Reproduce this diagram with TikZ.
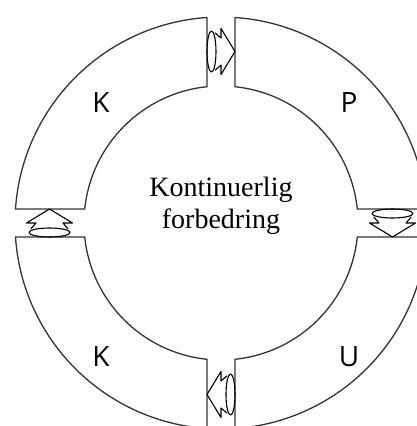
\documentclass[tikz,border=0pt]{standalone}
\usepackage{fontspec}
\setmainfont{Liberation Serif}
\newfontfamily\labelfont{Open Sans}
\tikzset{
  ring/.style={draw=black!80, line width=1.3bp},
  arr/.style={draw=black, line width=1.1bp, line join=round},
  quad/.style={font=\labelfont\fontsize{28bp}{30bp}\selectfont},
  cyc/.pic={
    \draw[arr] (-6,18.7) -- (0,13.5) -- (0,23) -- (14,0) -- (0,-23) -- (0,-13.5) -- (-6,-18.7);
    \draw[arr] (-9.5,0) ellipse[x radius=4.5bp, y radius=20.5bp];
  }
}
\begin{document}
\begin{tikzpicture}[x=1bp,y=1bp]
\useasboundingbox (-221,-203) rectangle (196,223);
% sectors
\draw[ring] (14,136.28) -- (14,205.52) arc[start angle=86.10, end angle=3.90, radius=206bp] -- (136.28,14) arc[start angle=5.87, end angle=84.13, radius=137bp] -- cycle;
\draw[ring] (136.28,-14) -- (205.52,-14) arc[start angle=-3.90, end angle=-86.10, radius=206bp] -- (14,-136.28) arc[start angle=-84.13, end angle=-5.87, radius=137bp] -- cycle;
\draw[ring] (-14,-136.28) -- (-14,-205.52) arc[start angle=-93.90, end angle=-176.10, radius=206bp] -- (-136.28,-14) arc[start angle=-174.13, end angle=-95.87, radius=137bp] -- cycle;
\draw[ring] (-136.28,14) -- (-205.52,14) arc[start angle=176.10, end angle=93.90, radius=206bp] -- (-14,136.28) arc[start angle=95.87, end angle=174.13, radius=137bp] -- cycle;
% arrows in gaps
\pic[rotate=0] at (0,171.5) {cyc};
\pic[rotate=-90] at (171.5,0) {cyc};
\pic[rotate=180] at (0,-171.5) {cyc};
\pic[rotate=90] at (-171.5,0) {cyc};
% labels
\node[quad] (k1) at (-120,120) {K};
\node[quad] (p) at (128,120) {P};
\node[quad] (k2) at (-120,-134) {K};
\node[quad] (u) at (128,-134) {U};
\node[align=center, font=\fontsize{28bp}{32bp}\selectfont] (c) at (0,17) {Kontinuerlig\\forbedring};
\end{tikzpicture}
\end{document}
